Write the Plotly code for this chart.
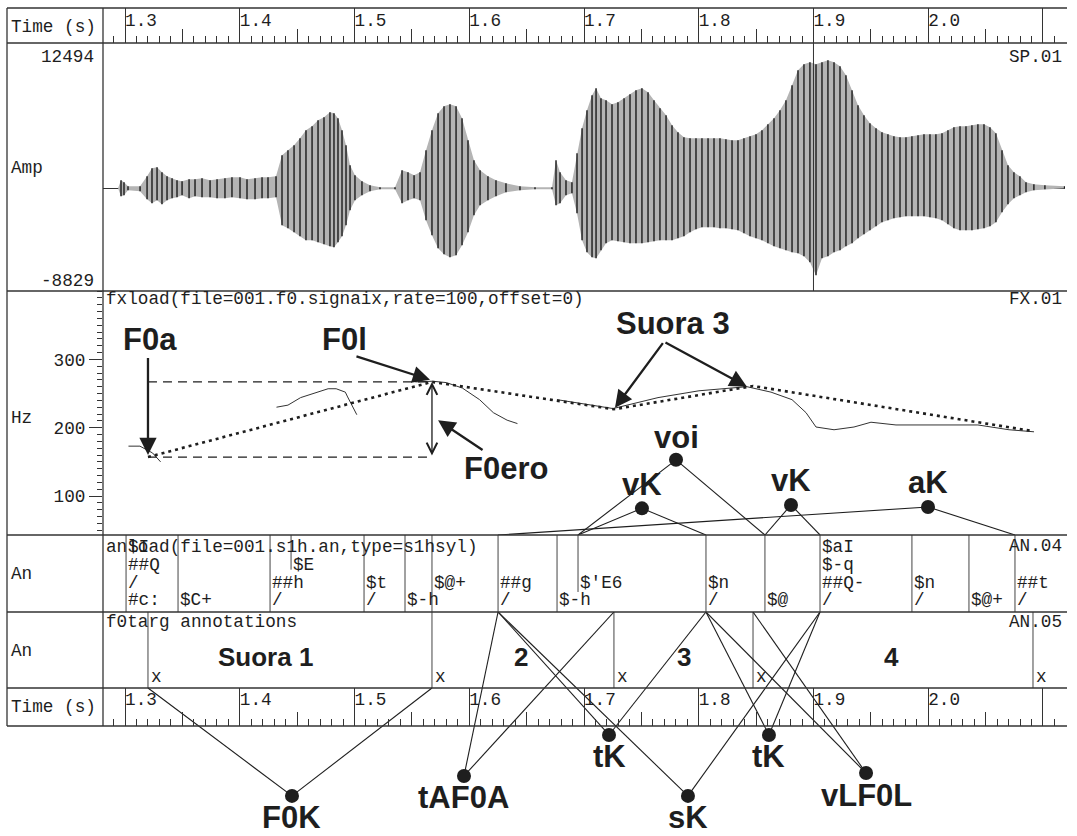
import plotly.graph_objects as go

W, H = 1077, 836

# ---------------- data ----------------
time_range = [1.2808, 2.1192]
time_labels = [1.3, 1.4, 1.5, 1.6, 1.7, 1.8, 1.9, 2.0]

amp_top, amp_bottom = 12494, -8829
cursor_t = 1.9

wave_t = [1.2808, 1.2939, 1.2965, 1.2991, 1.3026, 1.3131, 1.3192, 1.3235, 1.3279, 1.3322,
          1.3366, 1.3410, 1.3453, 1.3497, 1.3558, 1.3610, 1.3671, 1.3741, 1.3802, 1.3871,
          1.3932, 1.4002, 1.4063, 1.4133, 1.4194, 1.4246, 1.4316, 1.4368, 1.4420, 1.4473,
          1.4525, 1.4577, 1.4630, 1.4682, 1.4734, 1.4786, 1.4821, 1.4856, 1.4891, 1.4926,
          1.4961, 1.5004, 1.5065, 1.5135, 1.5222, 1.5353, 1.5414, 1.5466, 1.5519, 1.5571,
          1.5623, 1.5675, 1.5728, 1.5780, 1.5832, 1.5885, 1.5937, 1.5989, 1.6041, 1.6094,
          1.6163, 1.6233, 1.6320, 1.6442, 1.6573, 1.6721, 1.6756, 1.6791, 1.6843, 1.6895,
          1.6939, 1.6983, 1.7026, 1.7070, 1.7105, 1.7148, 1.7192, 1.7244, 1.7296, 1.7349,
          1.7401, 1.7453, 1.7505, 1.7558, 1.7610, 1.7662, 1.7715, 1.7767, 1.7819, 1.7871,
          1.7924, 1.7976, 1.8028, 1.8081, 1.8133, 1.8185, 1.8237, 1.8290, 1.8342, 1.8394,
          1.8447, 1.8499, 1.8551, 1.8603, 1.8656, 1.8708, 1.8760, 1.8813, 1.8865, 1.8917,
          1.8969, 1.9022, 1.9074, 1.9126, 1.9179, 1.9231, 1.9283, 1.9336, 1.9388, 1.9440,
          1.9492, 1.9545, 1.9597, 1.9649, 1.9701, 1.9754, 1.9806, 1.9858, 1.9911, 1.9963,
          2.0015, 2.0067, 2.0120, 2.0172, 2.0224, 2.0277, 2.0329, 2.0381, 2.0433, 2.0486,
          2.0538, 2.0590, 2.0643, 2.0695, 2.0747, 2.0799, 2.0852, 2.0921, 2.1017, 2.1188]
wave_hi = [0, 0, 688, 516, 172, 172, 1032, 1720, 1806, 1376,
           1032, 860, 688, 602, 774, 774, 860, 688, 774, 860,
           946, 946, 774, 860, 946, 946, 1032, 2838, 3268, 3698,
           4300, 4988, 5332, 5848, 6106, 6536, 6450, 6020, 4988, 3698,
           1978, 1118, 602, 258, 86, 86, 1548, 1376, 1118, 1376,
           3268, 4988, 6450, 7052, 7224, 7052, 6020, 4128, 2408, 1548,
           1032, 688, 430, 172, 86, 86, 2408, 1376, 688, 516,
           3010, 5160, 6708, 7998, 8600, 7740, 7568, 7224, 7396, 7740,
           8084, 8428, 8600, 8256, 7568, 6880, 6278, 5418, 4816, 4386,
           4300, 4300, 4300, 4300, 4300, 4300, 4214, 4128, 4128, 4300,
           4472, 4644, 4988, 5504, 6020, 6708, 7568, 8858, 10148, 10664,
           10836, 10664, 10836, 11008, 10836, 10492, 9718, 8428, 7138, 6278,
           5590, 5160, 4816, 4644, 4472, 4386, 4386, 4472, 4558, 4644,
           4644, 4644, 4730, 4988, 5246, 5332, 5332, 5418, 5504, 5504,
           5246, 4730, 3268, 1978, 1376, 1032, 516, 344, 258, 172]
wave_lo = [0, 0, -688, -602, -172, -258, -946, -1290, -1032, -1376,
           -1032, -860, -774, -602, -860, -688, -774, -774, -860, -860,
           -774, -860, -946, -946, -860, -860, -774, -3182, -3440, -3784,
           -4128, -4472, -4472, -4644, -4816, -4988, -5074, -4644, -4128, -3182,
           -1892, -1032, -602, -258, -86, -86, -1290, -1032, -860, -1032,
           -2752, -4042, -5160, -5676, -5934, -5762, -4902, -3784, -2322, -1462,
           -1032, -688, -344, -172, -86, -86, -1462, -1290, -602, -430,
           -2150, -4472, -5504, -5934, -6020, -5332, -4730, -4472, -4558, -4644,
           -4730, -4730, -4730, -4644, -4558, -4472, -4472, -4472, -4300, -4128,
           -3784, -3526, -3354, -3354, -3354, -3440, -3440, -3526, -3612, -3870,
           -4128, -4300, -4472, -4730, -4988, -5160, -5332, -5504, -5590, -5848,
           -6364, -7482, -6020, -5848, -5504, -5332, -4988, -4730, -4300, -3956,
           -3612, -3268, -2924, -2752, -2580, -2494, -2408, -2408, -2408, -2408,
           -2494, -2580, -2752, -3096, -3440, -3612, -3612, -3612, -3526, -3440,
           -3268, -2924, -2064, -1376, -860, -602, -344, -172, -86, 0]

f0_range = [43, 400]
f0_ticks = [100, 200, 300]
f0_t1 = [1.303, 1.313, 1.324, 1.331]
f0_hz1 = [173, 173, 163, 150]
f0_t2 = [1.432, 1.442, 1.453, 1.467, 1.477, 1.484, 1.492, 1.494, 1.502]
f0_hz2 = [230, 233, 244, 252, 257, 257, 252, 245, 219]
f0_t3 = [1.553, 1.568, 1.580, 1.594, 1.609, 1.621, 1.633, 1.642]
f0_hz3 = [267, 268, 266, 258, 241, 222, 211, 206]
f0_t4 = [1.6765, 1.7044, 1.7253, 1.7645, 1.8002, 1.8420, 1.8630, 1.8813, 1.8935,
         1.9022, 1.9179, 1.9353, 1.9501, 1.9719, 2.0198, 2.0433, 2.0704, 2.0922]
f0_hz4 = [241, 233, 228, 244, 254, 260, 252, 241, 222,
          201, 197, 201, 208, 204, 204, 204, 197, 194]

target_t = [1.3200, 1.5675, 1.7261, 1.8473, 2.0913]
target_hz = [157, 267, 227, 261, 195]

an04_bound_t = [1.3009, 1.3462, 1.4264, 1.4447, 1.5083, 1.5440, 1.5675, 1.6251,
                1.6765, 1.6948, 1.8063, 1.8577, 1.9057, 1.9858, 2.0355, 2.0756]
an04_bound_from = [0, 0, 0, 0.55, 0, 0, 0, 0, 0, 0.26, 0, 0, 0, 0, 0, 0]
an04_text = ["$I", "##Q", "/", "#c:", "$C+", "$E", "##h", "/", "$t", "/", "$-h", "$@+",
             "##g", "/", "$-h", "$'E6", "$n", "/", "$@", "$aI", "$-q", "##Q-", "/",
             "$n", "/", "$@+", "##t", "/"]
an04_text_t = [1.3009, 1.3009, 1.3009, 1.3009, 1.3462, 1.4447, 1.4264, 1.4264, 1.5083, 1.5083,
               1.5440, 1.5675, 1.6251, 1.6251, 1.6765, 1.6948, 1.8063, 1.8063, 1.8577,
               1.9057, 1.9057, 1.9057, 1.9057, 1.9858, 1.9858, 2.0355, 2.0756, 2.0756]
an04_text_row = [0, 1, 2, 3, 3, 1, 2, 3, 2, 3, 3, 2, 2, 3, 3, 2, 2, 3, 3, 0, 1, 2, 3, 2, 3, 3, 2, 3]

seg_names = ["Suora 1", "2", "3", "4"]
seg_name_t = [1.422, 1.645, 1.787, 1.968]

up_names = ["voi", "vK", "vK", "aK"]
up_t = [1.7802, 1.7505, 1.8804, 1.9998]
up_hz = [153, 82, 87, 84]
up_links = [[1.6948, 1.8577], [1.6948, 1.8063], [1.8577, 1.9057], [1.6251, 2.0756]]

low_names = ["F0K", "tAF0A", "tK", "sK", "tK", "vLF0L"]
low_t = [1.4455, 1.5954, 1.7218, 1.7906, 1.8612, 1.9458]
low_level = [0.179, 0.268, 0.451, 0.179, 0.451, 0.281]
low_links = [[1.3200, 1.5675], [1.6251, 1.7261], [1.6251, 1.8063],
             [1.6251, 1.9057], [1.8063, 1.9057], [1.8063, 1.8473]]
low_link_tier = ["AN.05", "AN.04", "AN.04", "AN.04", "AN.04", "AN.04"]

# ---------------- layout geometry (pixels) ----------------
ROWS = [8, 43, 291, 535, 612, 688, 726]
X_LEFT, X_COL, X_RIGHT = 7, 103, 1067
PLOT_RIGHT = 1065


def fx(p):
    return p / W


def fy(p):
    return 1 - p / H


def dom(i):
    return [fy(ROWS[i + 1]), fy(ROWS[i])]


XD = [fx(X_COL), fx(PLOT_RIGHT)]
INK = "#1e1e1e"
MONO = "Liberation Mono, Courier New, monospace"
SANS = "Liberation Sans, Arial, sans-serif"
mono_font = dict(family=MONO, size=17.7, color=INK)

# level of An.05 bottom in the lower graph axis (0 = figure bottom, 1 = An.05 top)
AN05_BOTTOM_LEVEL = (H - ROWS[5]) / (H - ROWS[4])

fig = go.Figure()

# ---- waveform ----
fig.add_trace(go.Scatter(x=wave_t + wave_t[::-1], y=wave_hi + wave_lo[::-1], fill="toself",
                         fillcolor="#b4b4b4", line=dict(width=0), mode="lines",
                         xaxis="x", yaxis="y2", hoverinfo="skip", showlegend=False))
sx, sy = [], []
for t, hi, lo in zip(wave_t, wave_hi, wave_lo):
    sx += [t, t, None]
    sy += [lo, hi, None]
fig.add_trace(go.Scatter(x=sx, y=sy, mode="lines", line=dict(color="#1a1a1a", width=1.4),
                         xaxis="x", yaxis="y2", hoverinfo="skip", showlegend=False))
fig.add_trace(go.Scatter(x=[cursor_t, cursor_t], y=[amp_bottom, amp_top], mode="lines",
                         line=dict(color="#333", width=1), xaxis="x", yaxis="y2",
                         hoverinfo="skip", showlegend=False))

# ---- F0 panel ----
for tt, hz in [(f0_t1, f0_hz1), (f0_t2, f0_hz2), (f0_t3, f0_hz3), (f0_t4, f0_hz4)]:
    fig.add_trace(go.Scatter(x=tt, y=hz, mode="lines", line=dict(color="#333", width=1),
                             xaxis="x", yaxis="y3", hoverinfo="skip", showlegend=False))
for lvl in (target_hz[0], target_hz[1]):
    fig.add_trace(go.Scatter(x=[target_t[0], target_t[1]], y=[lvl, lvl], mode="lines",
                             line=dict(color=INK, width=1.3, dash="9px,6px"),
                             xaxis="x", yaxis="y3", hoverinfo="skip", showlegend=False))
fig.add_trace(go.Scatter(x=target_t, y=target_hz, mode="lines",
                         line=dict(color=INK, width=2.6, dash="3px,4px"),
                         xaxis="x", yaxis="y3", hoverinfo="skip", showlegend=False))

# upper graph
ux, uy = [], []
for t, hz, links in zip(up_t, up_hz, up_links):
    for lt in links:
        ux += [t, lt, None]
        uy += [hz, f0_range[0], None]
fig.add_trace(go.Scatter(x=ux, y=uy, mode="lines", line=dict(color=INK, width=1.1),
                         xaxis="x", yaxis="y3", hoverinfo="skip", showlegend=False))
fig.add_trace(go.Scatter(x=up_t, y=up_hz, mode="markers", marker=dict(size=14, color=INK),
                         xaxis="x", yaxis="y3", hoverinfo="skip", showlegend=False))

# ---- An.04 boundaries ----
bx, by = [], []
for t, b in zip(an04_bound_t, an04_bound_from):
    bx += [t, t, None]
    by += [b, 1, None]
fig.add_trace(go.Scatter(x=bx, y=by, mode="lines", line=dict(color="#444", width=1),
                         xaxis="x", yaxis="y4", hoverinfo="skip", showlegend=False))

# ---- An.05 boundaries ----
cx, cy = [], []
for t in target_t:
    cx += [t, t, None]
    cy += [0, 1, None]
fig.add_trace(go.Scatter(x=cx, y=cy, mode="lines", line=dict(color="#444", width=1),
                         xaxis="x", yaxis="y5", hoverinfo="skip", showlegend=False))

# ---- lower graph ----
lx, ly = [], []
for t, lvl, links, tier in zip(low_t, low_level, low_links, low_link_tier):
    end_lvl = 1.0 if tier == "AN.04" else AN05_BOTTOM_LEVEL
    for lt in links:
        lx += [t, lt, None]
        ly += [lvl, end_lvl, None]
fig.add_trace(go.Scatter(x=lx, y=ly, mode="lines", line=dict(color=INK, width=1.1),
                         xaxis="x", yaxis="y7", hoverinfo="skip", showlegend=False))
fig.add_trace(go.Scatter(x=low_t, y=low_level, mode="markers", marker=dict(size=14, color=INK),
                         xaxis="x", yaxis="y7", hoverinfo="skip", showlegend=False))

# ---- time rows: tick labels (and make sure every tick axis has a trace) ----
fig.add_trace(go.Scatter(x=time_labels, y=[0.6] * len(time_labels), mode="text",
                         text=[f"{v:.1f}" for v in time_labels], textposition="middle right",
                         textfont=mono_font, xaxis="x3", yaxis="y", hoverinfo="skip",
                         showlegend=False, cliponaxis=False))
fig.add_trace(go.Scatter(x=time_labels, y=[0.68] * len(time_labels), mode="text",
                         text=[f"{v:.1f}" for v in time_labels], textposition="middle right",
                         textfont=mono_font, xaxis="x2", yaxis="y6", hoverinfo="skip",
                         showlegend=False, cliponaxis=False))
fig.add_trace(go.Scatter(x=[None], y=[None], mode="markers", xaxis="x4", yaxis="y6",
                         hoverinfo="skip", showlegend=False))

# ---------------- annotations ----------------
ann = []


def ptext(txt, x, y, anchor="left", font=None):
    ann.append(dict(text=txt, x=fx(x), y=fy(y), xref="paper", yref="paper",
                    xanchor=anchor, yanchor="middle", showarrow=False,
                    font=font or mono_font))


for txt, x, y, a in [("Time (s)", 9, 27, "left"), ("12494", 96, 57, "right"),
                     ("Amp", 9, 168, "left"), ("-8829", 96, 281, "right"),
                     ("Hz", 9, 418, "left"), ("An", 9, 574, "left"), ("An", 9, 651, "left"),
                     ("Time (s)", 9, 707, "left"),
                     ("SP.01", 1064, 57, "right"), ("FX.01", 1064, 299, "right"),
                     ("AN.04", 1064, 546, "right"), ("AN.05", 1064, 622, "right"),
                     ("fxload(file=001.f0.signaix,rate=100,offset=0)", 104, 299, "left"),
                     ("anload(file=001.s1h.an,type=s1hsyl)", 104, 547, "left"),
                     ("f0targ annotations", 104, 622, "left")]:
    ptext(txt, x, y, a)

AN04_ROW_PX = [547, 565, 583, 600]
for txt, t, r in zip(an04_text, an04_text_t, an04_text_row):
    ann.append(dict(text=txt, x=t, y=fy(AN04_ROW_PX[r]), xref="x", yref="paper",
                    xanchor="left", yanchor="middle", xshift=0, showarrow=False, font=mono_font))

for t in target_t:
    ann.append(dict(text="x", x=t, y=fy(677), xref="x", yref="paper", xanchor="left",
                    yanchor="middle", xshift=1, showarrow=False, font=mono_font))

big = dict(family=SANS, size=31, color=INK)
mid = dict(family=SANS, size=26, color=INK)
for name, t in zip(seg_names, seg_name_t):
    ann.append(dict(text=f"<b>{name}</b>", x=t, y=fy(657), xref="x", yref="paper",
                    xanchor="center", yanchor="middle", showarrow=False, font=mid))

for txt, t, hz in [("F0a", 1.3218, 329), ("F0l", 1.4917, 329), ("F0ero", 1.632, 141),
                   ("Suora 3", 1.7776, 352)]:
    ann.append(dict(text=f"<b>{txt}</b>", x=t, y=hz, xref="x", yref="y3", xanchor="center",
                    yanchor="middle", showarrow=False, font=big))

for (ht, hh), (tt, th) in [((1.3200, 160), (1.3200, 304)), ((1.5658, 270), (1.5004, 305)),
                           ((1.5728, 211), (1.6129, 166)), ((1.727, 229), (1.7697, 326)),
                           ((1.842, 260), (1.7697, 326))]:
    ann.append(dict(text="", x=ht, y=hh, ax=tt, ay=th, xref="x", yref="y3", axref="x",
                    ayref="y3", showarrow=True, arrowhead=2, arrowsize=1.5, arrowwidth=2.3,
                    arrowcolor=INK, standoff=0))

ann.append(dict(text="", x=target_t[1], y=target_hz[1], ax=target_t[1], ay=target_hz[0],
                xref="x", yref="y3", axref="x", ayref="y3", showarrow=True,
                arrowside="end+start", arrowhead=5, startarrowhead=5, arrowsize=1.6,
                startarrowsize=1.6, arrowwidth=1.3, arrowcolor=INK, standoff=0,
                startstandoff=0))

for name, t, hz in zip(up_names, up_t, up_hz):
    ann.append(dict(text=f"<b>{name}</b>", x=t, y=hz, xref="x", yref="y3", xanchor="center",
                    yanchor="middle", yshift=22 if name == "voi" else 24,
                    showarrow=False, font=big))
for name, t, lvl in zip(low_names, low_t, low_level):
    ann.append(dict(text=f"<b>{name}</b>", x=t, y=lvl, xref="x", yref="y7", xanchor="center",
                    yanchor="middle", yshift=-22, showarrow=False, font=big))

# ---------------- frame ----------------
shapes = []
for r in ROWS:
    shapes.append(dict(type="line", xref="paper", yref="paper", x0=fx(X_LEFT), x1=fx(X_RIGHT),
                       y0=fy(r), y1=fy(r), line=dict(color="#333", width=1.3)))
for xv in (X_LEFT, X_COL):
    shapes.append(dict(type="line", xref="paper", yref="paper", x0=fx(xv), x1=fx(xv),
                       y0=fy(ROWS[0]), y1=fy(ROWS[-1]), line=dict(color="#333", width=1.3)))

# ---------------- axes ----------------
tick_base = dict(range=time_range, domain=XD, showgrid=False, zeroline=False, showline=False,
                 showticklabels=False, ticks="inside", tickcolor="#333", tickwidth=1,
                 tickmode="linear")
hidden = dict(visible=False, showgrid=False, zeroline=False, range=[0, 1])
minor_ticks = dict(ticks="inside", ticklen=7, tick0=1.3, dtick=0.01, tickcolor="#333",
                   tickwidth=1)

fig.update_layout(
    width=W, height=H, autosize=False,
    margin=dict(l=0, r=0, t=0, b=0),
    paper_bgcolor="white", plot_bgcolor="rgba(0,0,0,0)",
    showlegend=False,
    xaxis=dict(**tick_base, anchor="y", tick0=1.3, dtick=0.1,
               ticklen=ROWS[1] - ROWS[0], minor=minor_ticks),
    xaxis3=dict(**tick_base, overlaying="x", anchor="y", tick0=1.35, dtick=0.1, ticklen=14),
    xaxis2=dict(**tick_base, anchor="y6", tick0=1.3, dtick=0.1,
                ticklen=ROWS[6] - ROWS[5], minor=minor_ticks),
    xaxis4=dict(**tick_base, overlaying="x2", anchor="y6", tick0=1.35, dtick=0.1, ticklen=14),
    yaxis=dict(**hidden, domain=dom(0), anchor="x"),
    yaxis2=dict(domain=dom(1), anchor="x", range=[amp_bottom, amp_top], showgrid=False,
                showticklabels=False, ticks="", showline=False, zeroline=True,
                zerolinecolor="#333", zerolinewidth=1),
    yaxis3=dict(domain=dom(2), anchor="x", range=f0_range, showgrid=False, zeroline=False,
                showline=False, tickmode="array", tickvals=f0_ticks, ticks="outside",
                ticklen=13, tickcolor="#333", tickwidth=1, tickfont=mono_font,
                minor=dict(ticks="outside", ticklen=5, tickmode="linear", tick0=0, dtick=10,
                           tickcolor="#333", tickwidth=1)),
    yaxis4=dict(**hidden, domain=dom(3), anchor="x"),
    yaxis5=dict(**hidden, domain=dom(4), anchor="x"),
    yaxis6=dict(**hidden, domain=dom(5), anchor="x2"),
    yaxis7=dict(**hidden, domain=[0, fy(ROWS[4])], anchor="x"),
    annotations=ann,
    shapes=shapes,
)

fig.write_html("out.html", config={"displayModeBar": False, "staticPlot": True},
               post_script="document.body.style.margin='0';"
                           "document.body.style.overflow='hidden';")
